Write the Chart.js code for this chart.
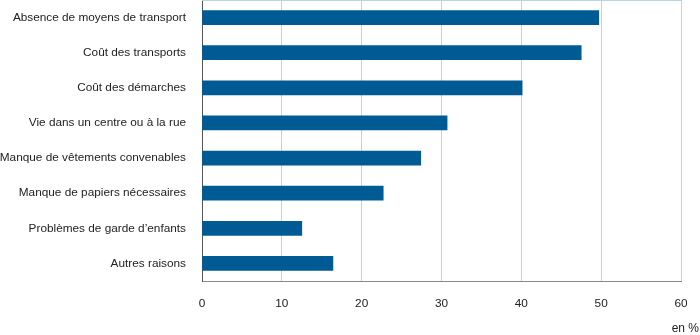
<!DOCTYPE html>
<html>
<head>
<meta charset="utf-8">
<script src="https://cdn.jsdelivr.net/npm/chart.js@4/dist/chart.umd.min.js"></script>
<style>
  html, body { margin: 0; padding: 0; background: #fff; }
  #wrap { width: 700px; height: 335px; position: relative; }
</style>
</head>
<body>
<div id="wrap"><canvas id="raisons"></canvas></div>
<script>
// raisons invoquées, en %
const categories = [
  'Absence de moyens de transport',
  'Coût des transports',
  'Coût des démarches',
  'Vie dans un centre ou à la rue',
  'Manque de vêtements convenables',
  'Manque de papiers nécessaires',
  'Problèmes de garde d\u2019enfants',
  'Autres raisons'
];
const values = [49.7, 47.5, 40.1, 30.7, 27.4, 22.7, 12.5, 16.4];
const xTicks = [0, 10, 20, 30, 40, 50, 60];

const gridBlue = '#bcd2e6';
const font = { family: '"Liberation Sans", Arial, sans-serif', size: 11.8 };

// top border of the plot + unit label in the bottom right corner
const extras = {
  id: 'extras',
  afterDraw(chart) {
    const { ctx, chartArea } = chart;
    ctx.save();
    ctx.strokeStyle = gridBlue;
    ctx.lineWidth = 1;
    ctx.beginPath();
    ctx.moveTo(chartArea.left, chartArea.top + 0.5);
    ctx.lineTo(chartArea.right, chartArea.top + 0.5);
    ctx.stroke();
    ctx.fillStyle = '#222';
    ctx.font = '12px "Liberation Sans", Arial, sans-serif';
    ctx.textAlign = 'right';
    ctx.textBaseline = 'middle';
    ctx.fillText('en %', 699, 329);
    ctx.restore();
  }
};

new Chart(document.getElementById('raisons'), {
  type: 'bar',
  data: {
    labels: categories,
    datasets: [{
      data: values,
      backgroundColor: '#005b94',
      barThickness: 14
    }]
  },
  options: {
    indexAxis: 'y',
    responsive: true,
    maintainAspectRatio: false,
    animation: false,
    layout: { padding: { top: 0, right: 19, bottom: 0, left: 0 } },
    plugins: { legend: { display: false }, tooltip: { enabled: false } },
    scales: {
      x: {
        min: 0,
        max: 60,
        afterBuildTicks(axis) { axis.ticks = xTicks.map(v => ({ value: v })); },
        afterFit(axis) {
          axis.height = 54;
          axis.paddingLeft = 0;
          axis.paddingRight = 0;
        },
        grid: { color: gridBlue, drawTicks: false },
        border: { color: '#8a8a8a' },
        ticks: { padding: 16, color: '#222', font }
      },
      y: {
        afterFit(axis) {
          axis.width = 202;
          axis.paddingTop = 0;
          axis.paddingBottom = 0;
        },
        grid: { display: false, drawTicks: false },
        border: { color: '#555' },
        ticks: { padding: 16, color: '#222', font }
      }
    }
  },
  plugins: [extras]
});
</script>
</body>
</html>
